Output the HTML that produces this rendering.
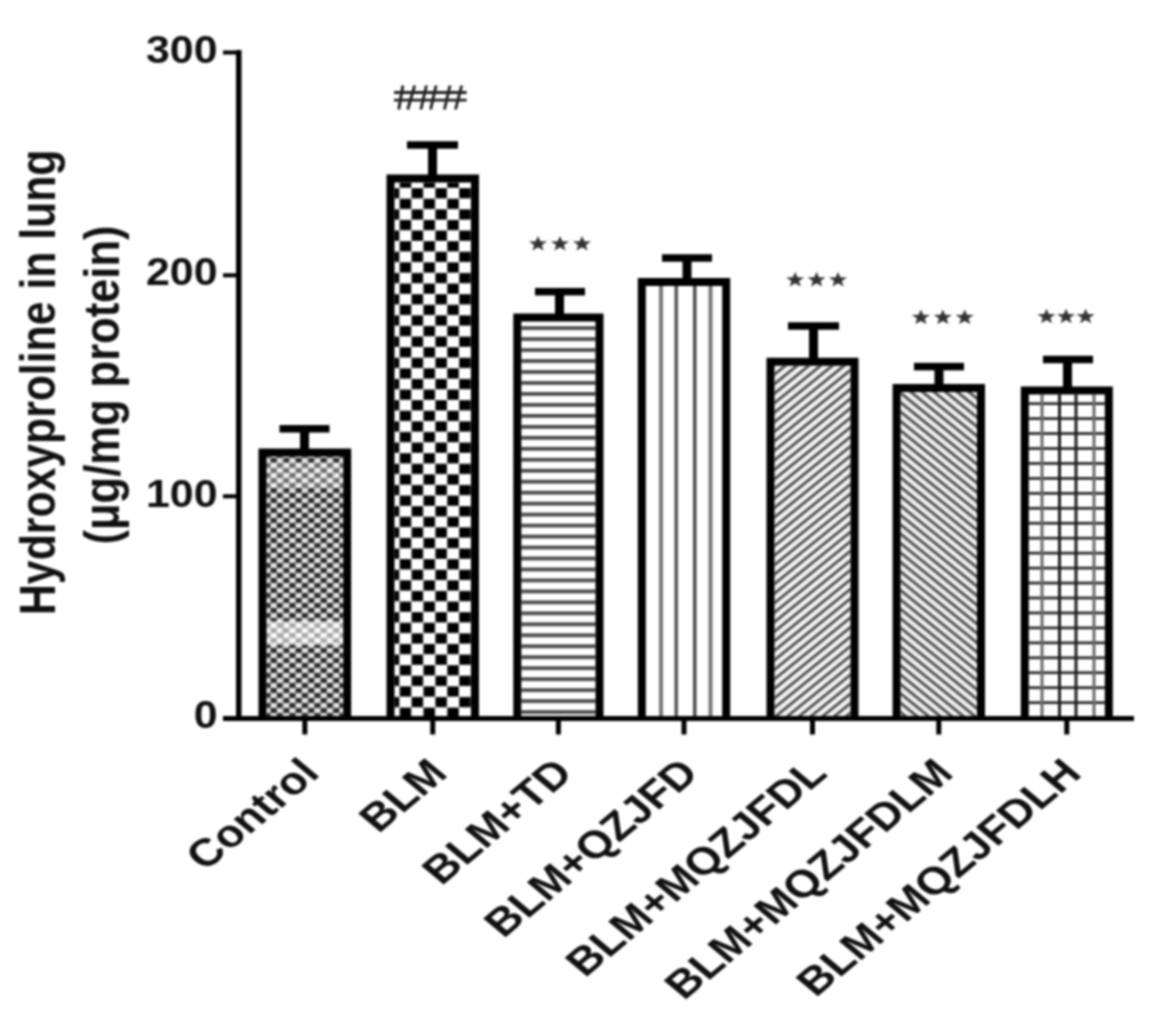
<!DOCTYPE html>
<html><head><meta charset="utf-8">
<style>
html,body{margin:0;padding:0;background:#fff;width:1156px;height:1017px;overflow:hidden}
svg{display:block}
#wrap{filter:blur(0.8px)}
text{font-family:"Liberation Sans",sans-serif;fill:#111}
.b{font-weight:bold}
.r{font-weight:normal}
</style></head><body><div id="wrap">
<svg width="1156" height="1017" viewBox="0 0 1156 1017">
<defs>
  <pattern id="pCtrl" patternUnits="userSpaceOnUse" x="264.3" y="453" width="12.5" height="10">
    <rect x="0" y="0" width="12.5" height="10" fill="#e2e2e2"/>
    <rect x="0" y="0" width="6.25" height="5" fill="#2e2e2e"/>
    <rect x="6.25" y="5" width="6.25" height="5" fill="#2e2e2e"/>
  </pattern>
  <pattern id="pCtrlLight" patternUnits="userSpaceOnUse" x="264.3" y="453" width="12.5" height="10">
    <rect x="0" y="0" width="12.5" height="10" fill="#fafafa"/>
    <rect x="0" y="0" width="6.25" height="5" fill="#a8a8a8"/>
    <rect x="6.25" y="5" width="6.25" height="5" fill="#a8a8a8"/>
  </pattern>
  <pattern id="pCtrlMid" patternUnits="userSpaceOnUse" x="264.3" y="453" width="12.5" height="10">
    <rect x="0" y="0" width="12.5" height="10" fill="#efefef"/>
    <rect x="0" y="0" width="6.25" height="5" fill="#707070"/>
    <rect x="6.25" y="5" width="6.25" height="5" fill="#707070"/>
  </pattern>
  <pattern id="pBLM" patternUnits="userSpaceOnUse" x="387.6" y="188" width="23.8" height="21.2">
    <rect x="0" y="0" width="23.8" height="21.2" fill="#fff"/>
    <rect x="0.2" y="0.2" width="11.5" height="10.2" fill="#000"/>
    <rect x="12.1" y="10.8" width="11.5" height="10.2" fill="#000"/>
  </pattern>
  <pattern id="pTD" patternUnits="userSpaceOnUse" x="0" y="326.2" width="20" height="10.97">
    <rect x="0" y="0" width="20" height="10.97" fill="#fff"/>
    <rect x="0" y="0" width="20" height="3.8" fill="#4a4a4a"/>
  </pattern>
  <pattern id="pL" patternUnits="userSpaceOnUse" width="20" height="7.4" patternTransform="rotate(-39)">
    <rect x="0" y="0" width="20" height="7.4" fill="#f2f2f2"/>
    <rect x="0" y="0" width="20" height="2.8" fill="#4e4e4e"/>
  </pattern>
  <pattern id="pLM" patternUnits="userSpaceOnUse" width="20" height="7.3" patternTransform="rotate(39)">
    <rect x="0" y="0" width="20" height="7.3" fill="#f0f0f0"/>
    <rect x="0" y="0" width="20" height="2.9" fill="#505050"/>
  </pattern>
  <pattern id="pLH" patternUnits="userSpaceOnUse" x="1042.4" y="508.7" width="16.3" height="15">
    <rect x="0" y="0" width="16.3" height="15" fill="#fff"/>
    <rect x="0" y="-1.5" width="16.3" height="3" fill="#222"/>
    <rect x="0" y="13.5" width="16.3" height="3" fill="#222"/>
    <rect x="-1.5" y="0" width="3" height="15" fill="#222"/>
    <rect x="14.8" y="0" width="3" height="15" fill="#222"/>
  </pattern>
</defs>

<rect x="266.50" y="456.50" width="76.70" height="262.00" fill="url(#pCtrl)"/>
<rect x="266.50" y="462" width="76.70" height="26" fill="url(#pCtrlMid)"/>
<rect x="266.50" y="621" width="76.70" height="24" fill="url(#pCtrlLight)"/>
<rect x="282" y="456.50" width="2" height="262.00" fill="#aaa" opacity="0.6"/>
<path d="M262.50,718.5 V452.50 H347.20 V718.5" fill="none" stroke="#000" stroke-width="8.0"/>
<rect x="279.5" y="425.05" width="50.0" height="7.5" fill="#000"/>
<rect x="300.00" y="428.80" width="9.0" height="21.70" fill="#000"/>
<rect x="394.50" y="182.60" width="76.50" height="535.90" fill="url(#pBLM)"/>
<path d="M390.50,718.5 V178.60 H475.00 V718.5" fill="none" stroke="#000" stroke-width="8.0"/>
<rect x="407.0" y="141.25" width="51.0" height="7.5" fill="#000"/>
<rect x="428.00" y="145.00" width="9.0" height="31.60" fill="#000"/>
<rect x="521.30" y="321.50" width="74.20" height="397.00" fill="url(#pTD)"/>
<path d="M517.30,718.5 V317.50 H599.50 V718.5" fill="none" stroke="#000" stroke-width="8.0"/>
<rect x="535.0" y="287.95" width="50.0" height="7.5" fill="#000"/>
<rect x="555.00" y="291.70" width="9.0" height="23.80" fill="#000"/>
<rect x="645.80" y="286.00" width="76.40" height="432.50" fill="#fff"/>
<rect x="659" y="286.00" width="4" height="432.50" fill="#777"/>
<rect x="674.5" y="286.00" width="3.5" height="432.50" fill="#555"/>
<rect x="693" y="286.00" width="3.5" height="432.50" fill="#4a4a4a"/>
<rect x="708.5" y="286.00" width="4" height="432.50" fill="#777"/>
<path d="M641.80,718.5 V282.00 H726.20 V718.5" fill="none" stroke="#000" stroke-width="8.0"/>
<rect x="662.0" y="254.25" width="50.0" height="7.5" fill="#000"/>
<rect x="682.50" y="258.00" width="9.0" height="22.00" fill="#000"/>
<rect x="774.50" y="365.80" width="76.00" height="352.70" fill="url(#pL)"/>
<path d="M770.50,718.5 V361.80 H854.50 V718.5" fill="none" stroke="#000" stroke-width="8.0"/>
<rect x="788.0" y="322.25" width="51.0" height="7.5" fill="#000"/>
<rect x="809.00" y="326.00" width="9.0" height="33.80" fill="#000"/>
<rect x="900.60" y="392.00" width="76.40" height="326.50" fill="url(#pLM)"/>
<path d="M896.60,718.5 V388.00 H981.00 V718.5" fill="none" stroke="#000" stroke-width="8.0"/>
<rect x="914.0" y="362.85" width="50.0" height="7.5" fill="#000"/>
<rect x="934.50" y="366.60" width="9.0" height="19.40" fill="#000"/>
<rect x="1028.80" y="394.50" width="76.00" height="324.00" fill="#fff"/>
<rect x="1028.80" y="402.25" width="76.00" height="2.8" fill="#2e2e2e"/>
<rect x="1028.80" y="417.20" width="76.00" height="2.8" fill="#2e2e2e"/>
<rect x="1028.80" y="432.15" width="76.00" height="2.8" fill="#2e2e2e"/>
<rect x="1028.80" y="447.10" width="76.00" height="2.8" fill="#2e2e2e"/>
<rect x="1028.80" y="462.05" width="76.00" height="2.8" fill="#2e2e2e"/>
<rect x="1028.80" y="477.00" width="76.00" height="2.8" fill="#2e2e2e"/>
<rect x="1028.80" y="491.95" width="76.00" height="2.8" fill="#2e2e2e"/>
<rect x="1028.80" y="506.90" width="76.00" height="2.8" fill="#2e2e2e"/>
<rect x="1028.80" y="521.85" width="76.00" height="2.8" fill="#2e2e2e"/>
<rect x="1028.80" y="536.80" width="76.00" height="2.8" fill="#2e2e2e"/>
<rect x="1028.80" y="551.75" width="76.00" height="2.8" fill="#2e2e2e"/>
<rect x="1028.80" y="566.70" width="76.00" height="2.8" fill="#2e2e2e"/>
<rect x="1028.80" y="581.65" width="76.00" height="2.8" fill="#2e2e2e"/>
<rect x="1028.80" y="596.60" width="76.00" height="2.8" fill="#2e2e2e"/>
<rect x="1028.80" y="611.55" width="76.00" height="2.8" fill="#2e2e2e"/>
<rect x="1028.80" y="626.50" width="76.00" height="2.8" fill="#2e2e2e"/>
<rect x="1028.80" y="641.45" width="76.00" height="2.8" fill="#2e2e2e"/>
<rect x="1028.80" y="656.40" width="76.00" height="2.8" fill="#2e2e2e"/>
<rect x="1028.80" y="671.35" width="76.00" height="2.8" fill="#2e2e2e"/>
<rect x="1028.80" y="686.30" width="76.00" height="2.8" fill="#2e2e2e"/>
<rect x="1028.80" y="701.25" width="76.00" height="2.8" fill="#2e2e2e"/>
<rect x="1028.80" y="716.20" width="76.00" height="2.8" fill="#2e2e2e"/>
<rect x="1040.5" y="394.50" width="3" height="324.00" fill="#6a6a6a"/>
<rect x="1058.0" y="394.50" width="3" height="324.00" fill="#1e1e1e"/>
<rect x="1074.5" y="394.50" width="3" height="324.00" fill="#1e1e1e"/>
<rect x="1092.5" y="394.50" width="3" height="324.00" fill="#6a6a6a"/>
<path d="M1024.80,718.5 V390.50 H1108.80 V718.5" fill="none" stroke="#000" stroke-width="8.0"/>
<rect x="1043.0" y="355.75" width="50.0" height="7.5" fill="#000"/>
<rect x="1063.00" y="359.50" width="9.0" height="29.00" fill="#000"/>
<g fill="#000">
<rect x="236" y="50" width="5.5" height="671"/>
<rect x="223" y="716" width="911" height="5"/>
<rect x="223" y="50.5" width="15" height="4"/>
<rect x="223" y="273.3" width="15" height="4"/>
<rect x="223" y="494.3" width="15" height="4"/>
<rect x="302.35" y="720" width="5" height="14.5"/>
<rect x="430.25" y="720" width="5" height="14.5"/>
<rect x="555.90" y="720" width="5" height="14.5"/>
<rect x="681.50" y="720" width="5" height="14.5"/>
<rect x="810.00" y="720" width="5" height="14.5"/>
<rect x="936.30" y="720" width="5" height="14.5"/>
<rect x="1064.30" y="720" width="5" height="14.5"/>
</g>
<g class="b" font-size="39" text-anchor="end">
<text transform="translate(217.5,63.2) scale(1.1,1)">300</text>
<text transform="translate(217.5,284.8) scale(1.1,1)">200</text>
<text transform="translate(217.5,507) scale(1.1,1)">100</text>
<text transform="translate(217.5,728) scale(1.1,1)">0</text>
</g>
<text class="b" font-size="42.75" transform="translate(55,615) scale(1.17,1) rotate(-90)">Hydroxyproline in lung</text>
<text class="b" font-size="43.5" transform="translate(119,544.5) scale(1.13,1) rotate(-90)">(μg/mg protein)</text>
<g class="b" font-size="38.5" text-anchor="end">
<text transform="translate(321.4,775) scale(1.2,1) rotate(-45)">Control</text>
<text transform="translate(449.2,775) scale(1.2,1) rotate(-45)">BLM</text>
<text transform="translate(574.9,775) scale(1.2,1) rotate(-45)">BLM+TD</text>
<text transform="translate(700.5,775) scale(1.2,1) rotate(-45)">BLM+QZJFD</text>
<text transform="translate(829.0,775) scale(1.2,1) rotate(-45)">BLM+MQZJFDL</text>
<text transform="translate(955.3,775) scale(1.2,1) rotate(-45)">BLM+MQZJFDLM</text>
<text transform="translate(1083.3,775) scale(1.2,1) rotate(-45)">BLM+MQZJFDLH</text>
</g>
<g fill="#333">
<polygon points="538.00,235.96 540.35,241.24 547.04,241.49 541.79,245.00 543.58,250.43 538.00,247.32 532.42,250.43 534.21,245.00 528.96,241.49 535.65,241.24"/>
<polygon points="560.00,235.96 562.35,241.24 569.04,241.49 563.79,245.00 565.58,250.43 560.00,247.32 554.42,250.43 556.21,245.00 550.96,241.49 557.65,241.24"/>
<polygon points="582.00,235.96 584.35,241.24 591.04,241.49 585.79,245.00 587.58,250.43 582.00,247.32 576.42,250.43 578.21,245.00 572.96,241.49 579.65,241.24"/>
<polygon points="795.20,271.96 797.55,277.24 804.24,277.49 798.99,281.00 800.78,286.43 795.20,283.32 789.62,286.43 791.41,281.00 786.16,277.49 792.85,277.24"/>
<polygon points="816.60,271.96 818.95,277.24 825.64,277.49 820.39,281.00 822.18,286.43 816.60,283.32 811.02,286.43 812.81,281.00 807.56,277.49 814.25,277.24"/>
<polygon points="838.00,271.96 840.35,277.24 847.04,277.49 841.79,281.00 843.58,286.43 838.00,283.32 832.42,286.43 834.21,281.00 828.96,277.49 835.65,277.24"/>
<polygon points="920.90,309.56 923.25,314.84 929.94,315.09 924.69,318.60 926.48,324.03 920.90,320.92 915.32,324.03 917.11,318.60 911.86,315.09 918.55,314.84"/>
<polygon points="942.80,309.56 945.15,314.84 951.84,315.09 946.59,318.60 948.38,324.03 942.80,320.92 937.22,324.03 939.01,318.60 933.76,315.09 940.45,314.84"/>
<polygon points="964.70,309.56 967.05,314.84 973.74,315.09 968.49,318.60 970.28,324.03 964.70,320.92 959.12,324.03 960.91,318.60 955.66,315.09 962.35,314.84"/>
<polygon points="1046.50,308.66 1048.85,313.94 1055.54,314.19 1050.29,317.70 1052.08,323.13 1046.50,320.02 1040.92,323.13 1042.71,317.70 1037.46,314.19 1044.15,313.94"/>
<polygon points="1066.05,308.66 1068.40,313.94 1075.09,314.19 1069.84,317.70 1071.63,323.13 1066.05,320.02 1060.47,323.13 1062.26,317.70 1057.01,314.19 1063.70,313.94"/>
<polygon points="1085.60,308.66 1087.95,313.94 1094.64,314.19 1089.39,317.70 1091.18,323.13 1085.60,320.02 1080.02,323.13 1081.81,317.70 1076.56,314.19 1083.25,313.94"/>
</g>
<g stroke="#222" stroke-width="2.9" fill="none">
<path d="M394,92.5 H466.6 M394,100.1 H466.6"/>
<path d="M402.9,85.5 L398.8,109.5"/>
<path d="M414.7,85.5 L407.7,109.5"/>
<path d="M426.4,85.5 L420.9,109.5"/>
<path d="M436.1,85.5 L430.6,109.5"/>
<path d="M450,85.5 L444.4,109.5"/>
<path d="M461.7,85.5 L455.5,109.5"/>
</g>
</svg></div>
</body></html>
